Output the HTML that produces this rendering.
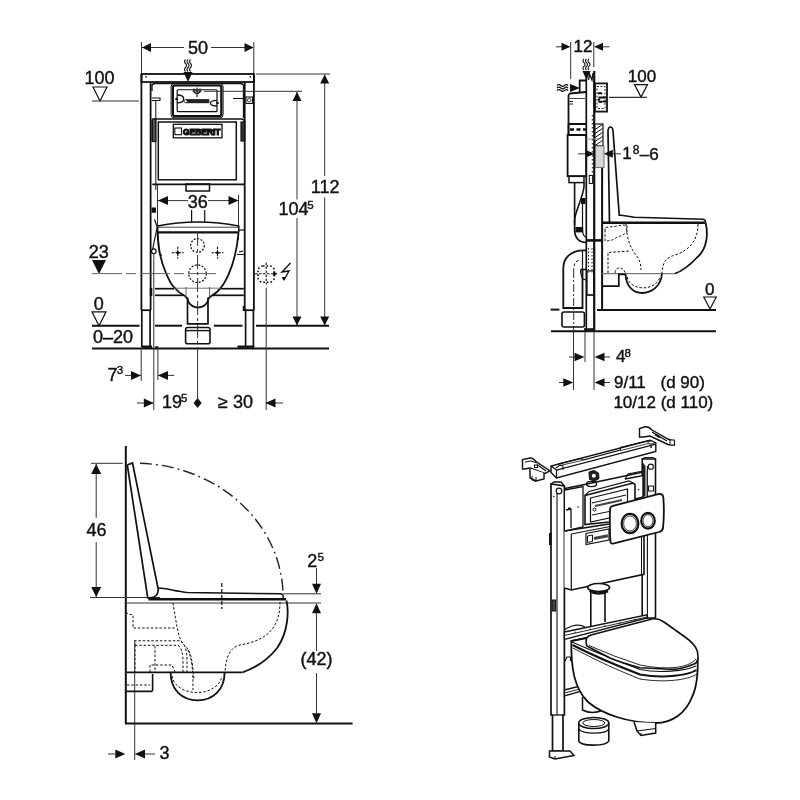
<!DOCTYPE html>
<html><head><meta charset="utf-8"><style>
html,body{margin:0;padding:0;background:#fff;}
svg{display:block;filter:grayscale(100%);}
text{font-family:"Liberation Sans",sans-serif;fill:#111;stroke:#111;stroke-width:0.4px;}
</style></head><body>
<svg width="800" height="800" viewBox="0 0 800 800">
<rect width="800" height="800" fill="#fff"/>
<line x1="141.5" y1="42" x2="141.5" y2="74" stroke="#333" stroke-width="1" />
<line x1="253.8" y1="42" x2="253.8" y2="74" stroke="#333" stroke-width="1" />
<line x1="142" y1="47.5" x2="184" y2="47.5" stroke="#333" stroke-width="1" />
<line x1="211" y1="47.5" x2="253" y2="47.5" stroke="#333" stroke-width="1" />
<polygon points="142,47.5 151,43.0 151,52.0" fill="#111"/>
<polygon points="253.5,47.5 244.5,43.0 244.5,52.0" fill="#111"/>
<polygon points="93.0,87 107.0,87 100,101" fill="none" stroke="#111" stroke-width="1.2"/>
<line x1="92" y1="101" x2="139" y2="101" stroke="#333" stroke-width="1.2" />
<rect x="141.5" y="74" width="112.5" height="8" rx="0" stroke="#111" stroke-width="1.8" fill="none" />
<line x1="141.4" y1="74" x2="141.4" y2="310.2" stroke="#111" stroke-width="1.8" />
<line x1="150.6" y1="82" x2="150.6" y2="310.2" stroke="#111" stroke-width="1.8" />
<line x1="244.7" y1="82" x2="244.7" y2="310.2" stroke="#111" stroke-width="1.8" />
<line x1="253.9" y1="74" x2="253.9" y2="310.2" stroke="#111" stroke-width="1.8" />
<line x1="141.4" y1="310.2" x2="150.6" y2="310.2" stroke="#111" stroke-width="1.8" />
<line x1="244.7" y1="310.2" x2="253.9" y2="310.2" stroke="#111" stroke-width="1.8" />
<rect x="149.8" y="288" width="2.5" height="8" rx="0" stroke="#111" stroke-width="0" fill="#111" />
<rect x="242.7" y="306" width="2.5" height="5" rx="0" stroke="#111" stroke-width="0" fill="#111" />
<line x1="141.8" y1="310" x2="141.8" y2="347" stroke="#111" stroke-width="1.7" />
<line x1="150.1" y1="310" x2="150.1" y2="347" stroke="#111" stroke-width="1.7" />
<line x1="245.6" y1="310" x2="245.6" y2="347" stroke="#111" stroke-width="1.7" />
<line x1="253.4" y1="310" x2="253.4" y2="347" stroke="#111" stroke-width="1.7" />
<line x1="141.5" y1="346.7" x2="152" y2="346.7" stroke="#111" stroke-width="2.4" />
<line x1="237.5" y1="346.7" x2="254.3" y2="346.7" stroke="#111" stroke-width="2.4" />
<rect x="155.4" y="346.3" width="2.6" height="2" rx="0" stroke="#111" stroke-width="0" fill="#111" />
<path d="M185.5,59.5 q-2,2 0,4 q2,2 0,4 q-2,2 0,4" stroke="#111" stroke-width="1.1" fill="none" />
<path d="M188,59.5 q-2,2 0,4 q2,2 0,4 q-2,2 0,4" stroke="#111" stroke-width="1.1" fill="none" />
<path d="M190.5,59.5 q-2,2 0,4 q2,2 0,4 q-2,2 0,4" stroke="#111" stroke-width="1.1" fill="none" />
<polygon points="188,82 183.5,72 192.5,72" fill="#111"/>
<circle cx="146" cy="76.8" r="0.9" fill="#111"/><circle cx="250.3" cy="76.8" r="0.9" fill="#111"/>
<path d="M152,91 L152,86 Q152,83.5 155,83.5 L240,83.5 Q243.5,83.5 243.5,86 L243.5,118" stroke="#111" stroke-width="1.3" fill="none" />
<rect x="171.1" y="83.7" width="52" height="34.1" rx="3" stroke="#111" stroke-width="1.0" fill="none" />
<rect x="172.9" y="85.5" width="48.4" height="30.5" rx="2" stroke="#111" stroke-width="2.2" fill="none" />
<rect x="177.2" y="89.75" width="39.8" height="21.95" rx="1" stroke="#111" stroke-width="1.2" fill="none" />
<path d="M194,88.5 L194,92 Q197,95 200,92 L200,88.5 M197,87.5 L197,97 M192.5,91 L201.5,91" stroke="#111" stroke-width="1.1" fill="none" />
<path d="M177.2,95 Q183.7,95 183.7,99 Q183.7,102.8 177.2,102.8" stroke="#111" stroke-width="1.3" fill="none" />
<path d="M217,100.3 Q210.5,100.3 210.5,103.2 Q210.5,106 217,106" stroke="#111" stroke-width="1.3" fill="none" />
<rect x="186" y="99.1" width="23.3" height="4.1" fill="#222"/>
<circle cx="185.7" cy="101.2" r="1.6" fill="#fff" stroke="#111" stroke-width="0.8"/>
<circle cx="176.5" cy="99" r="1.3" fill="#111"/><circle cx="217.5" cy="103" r="1.3" fill="#111"/>
<path d="M152,98 L160,98 L160,100.5 L152,100.5" stroke="#111" stroke-width="1.1" fill="none" />
<path d="M233,98.5 L243,98.5" stroke="#111" stroke-width="1.1" fill="none" />
<rect x="246" y="97" width="6.5" height="6.5" rx="0" stroke="#111" stroke-width="1.1" fill="none" />
<circle cx="249.2" cy="100.2" r="1.8" fill="none" stroke="#111" stroke-width="0.8"/>
<line x1="155.8" y1="100" x2="155.8" y2="190" stroke="#111" stroke-width="1" />
<path d="M152.3,141.5 L152.3,121 Q152.3,119 155,119 L241,119 Q244.5,119 244.5,122 L244.5,141" stroke="#111" stroke-width="1.6" fill="none" />
<rect x="152.3" y="119" width="3.5" height="22.5" rx="0" stroke="#111" stroke-width="1.2" fill="#555" />
<rect x="241" y="122" width="3.5" height="19" rx="0" stroke="#111" stroke-width="1.2" fill="#333" />
<line x1="152.3" y1="184.3" x2="244.5" y2="184.3" stroke="#111" stroke-width="1.8" />
<rect x="158.3" y="122" width="78" height="57.8" rx="0" stroke="#111" stroke-width="1.5" fill="none" />
<rect x="173.3" y="124.3" width="48.7" height="13.5" rx="0" stroke="#111" stroke-width="1.3" fill="none" />
<rect x="174.8" y="128" width="6.7" height="6.7" rx="0" stroke="#111" stroke-width="1.1" fill="none" />
<text x="183" y="134.8" font-size="8.2" font-weight="bold" textLength="37.5" lengthAdjust="spacingAndGlyphs" style="fill:#111;stroke:#111;stroke-width:1.1">GEBERIT</text>
<rect x="186" y="184" width="23.5" height="7" rx="0" stroke="#111" stroke-width="1.5" fill="none" />
<line x1="157.5" y1="195" x2="157.5" y2="240" stroke="#333" stroke-width="1" />
<line x1="238.5" y1="195" x2="238.5" y2="240" stroke="#333" stroke-width="1" />
<line x1="158" y1="200.6" x2="188" y2="200.6" stroke="#333" stroke-width="1" />
<line x1="208" y1="200.6" x2="238" y2="200.6" stroke="#333" stroke-width="1" />
<polygon points="158,200.6 168,196.1 168,205.1" fill="#111"/>
<polygon points="238.5,200.6 228.5,196.1 228.5,205.1" fill="#111"/>
<line x1="191.6" y1="210" x2="191.6" y2="222" stroke="#111" stroke-width="1.2" />
<line x1="204.7" y1="210" x2="204.7" y2="222" stroke="#111" stroke-width="1.2" />
<path d="M157.5,232.4 L157.5,226 Q198,218 238.8,226 L238.8,232.4" stroke="#111" stroke-width="1.5" fill="none" />
<line x1="158" y1="227.2" x2="238.5" y2="227.2" stroke="#111" stroke-width="0.8" />
<line x1="157" y1="232.4" x2="239" y2="232.4" stroke="#111" stroke-width="2.4" />
<path d="M157.5,233 C158,250 161,262 166.3,273.8 C169,280 171,284 173.8,287 C178,292 181,294 185,296 C186.5,297 188,299 188.5,302 C191,306 194.5,307.5 198,307.5 C201.5,307.5 205,306 207.5,302 C208,299 209.5,297 211.3,296 C215,294 218,292 221.3,287 C224,284 226,280 228.8,273.8 C234,262 237,250 238.5,233" stroke="#111" stroke-width="1.8" fill="none" />
<line x1="238.5" y1="230" x2="244.5" y2="230" stroke="#111" stroke-width="1.2" />
<path d="M237,254.5 L244.5,254.5 M239,252 L243,251" stroke="#111" stroke-width="1.2" fill="none" />
<rect x="151.5" y="207.5" width="4.5" height="5.2" rx="0" stroke="#111" stroke-width="0" fill="#111" />
<path d="M154.5,219.5 L157.2,227 L152.5,250" stroke="#111" stroke-width="1.2" fill="none" />
<path d="M157.5,228 L159.5,254 L162,255.5" stroke="#111" stroke-width="1.2" fill="none" />
<circle cx="153.8" cy="251.2" r="2.3" fill="none" stroke="#111" stroke-width="1.2"/>
<line x1="157.5" y1="185" x2="157.5" y2="227" stroke="#333" stroke-width="1" />
<circle cx="197.5" cy="245.5" r="6.8" fill="none" stroke="#111" stroke-width="1.2" stroke-dasharray="2 1.5"/>
<circle cx="197.5" cy="273.7" r="8.8" fill="none" stroke="#111" stroke-width="1.2" stroke-dasharray="2 1.5"/>
<line x1="171.8" y1="252.7" x2="183.8" y2="252.7" stroke="#111" stroke-width="1.1" stroke-dasharray="2.5 1"/>
<line x1="177.8" y1="246.7" x2="177.8" y2="258.7" stroke="#111" stroke-width="1.1" stroke-dasharray="2.5 1"/>
<polygon points="175.8,252.7 177.8,250.7 179.8,252.7 177.8,254.7" fill="#111"/>
<line x1="211.5" y1="252.7" x2="223.5" y2="252.7" stroke="#111" stroke-width="1.1" stroke-dasharray="2.5 1"/>
<line x1="217.5" y1="246.7" x2="217.5" y2="258.7" stroke="#111" stroke-width="1.1" stroke-dasharray="2.5 1"/>
<polygon points="215.5,252.7 217.5,250.7 219.5,252.7 217.5,254.7" fill="#111"/>
<polygon points="92.0,260 106.0,260 99,274" fill="#111"/>
<line x1="92" y1="273.6" x2="216" y2="273.6" stroke="#666" stroke-width="1" stroke-dasharray="30 4 10 4"/>
<polygon points="92.0,311.8 106.0,311.8 99,325.8" fill="none" stroke="#111" stroke-width="1.2"/>
<line x1="92" y1="325.7" x2="139.5" y2="325.7" stroke="#111" stroke-width="2" />
<line x1="155" y1="325.7" x2="182" y2="325.7" stroke="#111" stroke-width="2" />
<line x1="213.8" y1="325.7" x2="242.5" y2="325.7" stroke="#111" stroke-width="2" />
<line x1="256" y1="325.7" x2="329" y2="325.7" stroke="#111" stroke-width="2" />
<line x1="92" y1="348.4" x2="329" y2="348.4" stroke="#111" stroke-width="2" />
<line x1="155" y1="288.7" x2="174" y2="288.7" stroke="#111" stroke-width="1.7" />
<line x1="221" y1="288.7" x2="243.8" y2="288.7" stroke="#111" stroke-width="1.7" />
<line x1="155" y1="295.3" x2="184" y2="295.3" stroke="#111" stroke-width="1.7" />
<line x1="212" y1="295.3" x2="243.8" y2="295.3" stroke="#111" stroke-width="1.7" />
<path d="M187.5,297.5 L187.5,323.8 L208,323.8 L208,297.5" stroke="#111" stroke-width="1.7" fill="none" />
<line x1="186" y1="287" x2="186" y2="297" stroke="#555" stroke-width="0.9" />
<line x1="209.5" y1="287" x2="209.5" y2="297" stroke="#555" stroke-width="0.9" />
<line x1="175" y1="288.2" x2="221" y2="288.2" stroke="#666" stroke-width="0.9" />
<rect x="185.6" y="327.5" width="24.4" height="16.3" rx="2" stroke="#111" stroke-width="1.6" fill="none" />
<line x1="186" y1="330.6" x2="209.6" y2="330.6" stroke="#111" stroke-width="1.4" />
<line x1="197.6" y1="232" x2="197.6" y2="348" stroke="#333" stroke-width="1" stroke-dasharray="14 3 3 3"/>
<line x1="197.6" y1="348" x2="197.6" y2="400" stroke="#333" stroke-width="1" />
<line x1="256" y1="74" x2="330" y2="74" stroke="#333" stroke-width="1" />
<line x1="204" y1="91.3" x2="302" y2="91.3" stroke="#333" stroke-width="1" />
<line x1="297" y1="92" x2="297" y2="199.5" stroke="#333" stroke-width="1" />
<line x1="297" y1="218" x2="297" y2="325" stroke="#333" stroke-width="1" />
<polygon points="297,92 292.5,101 301.5,101" fill="#111"/>
<polygon points="297,325.5 292.5,316.5 301.5,316.5" fill="#111"/>
<line x1="324.7" y1="74.4" x2="324.7" y2="176" stroke="#333" stroke-width="1" />
<line x1="324.7" y1="197.5" x2="324.7" y2="325" stroke="#333" stroke-width="1" />
<polygon points="324.7,74.4 320.2,83.4 329.2,83.4" fill="#111"/>
<polygon points="324.7,325.5 320.2,316.5 329.2,316.5" fill="#111"/>
<rect x="258" y="266" width="16.4" height="16.2" rx="5" stroke="#111" stroke-width="1.6" fill="none" stroke-dasharray="1.6 2"/>
<line x1="255" y1="273.8" x2="277" y2="273.8" stroke="#111" stroke-width="1.1" stroke-dasharray="2.5 1.5"/>
<line x1="266.2" y1="262.5" x2="266.2" y2="284.5" stroke="#111" stroke-width="1.1" stroke-dasharray="2.5 1.5"/>
<polygon points="277.2,273.8 273.2,271.3 273.2,276.3" fill="#111"/>
<path d="M290.5,263 L282,272 L289,271 L284,280" stroke="#111" stroke-width="1.4" fill="none" />
<polygon points="283.6,281 281.6,277 285.6,277" fill="#111"/>
<line x1="266.2" y1="288" x2="266.2" y2="410" stroke="#333" stroke-width="1" />
<line x1="141.2" y1="348" x2="141.2" y2="381" stroke="#333" stroke-width="1" />
<line x1="153.8" y1="253" x2="153.8" y2="410" stroke="#333" stroke-width="1" />
<line x1="157.9" y1="346" x2="157.9" y2="380" stroke="#333" stroke-width="1" />
<line x1="125" y1="375.4" x2="141" y2="375.4" stroke="#333" stroke-width="1" />
<polygon points="141,375.4 131,370.9 131,379.9" fill="#111"/>
<line x1="158" y1="375.4" x2="174" y2="375.4" stroke="#333" stroke-width="1" />
<polygon points="158,375.4 168,370.9 168,379.9" fill="#111"/>
<line x1="137" y1="403" x2="153.5" y2="403" stroke="#333" stroke-width="1" />
<polygon points="153.8,403 143.8,398.5 143.8,407.5" fill="#111"/>
<polygon points="197.6,398 201.6,403 197.6,408 193.6,403" fill="#111"/>
<line x1="266" y1="403" x2="283" y2="403" stroke="#333" stroke-width="1" />
<polygon points="265.5,403 275.5,398.5 275.5,407.5" fill="#111"/>
<line x1="570.7" y1="42" x2="570.7" y2="79" stroke="#333" stroke-width="1" />
<line x1="593.8" y1="42" x2="593.8" y2="67.3" stroke="#333" stroke-width="1" />
<line x1="556" y1="46.8" x2="562" y2="46.8" stroke="#333" stroke-width="1" />
<polygon points="570.5,46.8 561.5,42.8 561.5,50.8" fill="#111"/>
<line x1="602" y1="46.8" x2="609.5" y2="46.8" stroke="#333" stroke-width="1" />
<polygon points="594,46.8 603,42.8 603,50.8" fill="#111"/>
<path d="M584.0,59 q-2,2 0,3.7 q2,1.8 0,3.7 q-2,1.8 0,3.6" stroke="#111" stroke-width="1.1" fill="none" />
<path d="M586.5,59 q-2,2 0,3.7 q2,1.8 0,3.7 q-2,1.8 0,3.6" stroke="#111" stroke-width="1.1" fill="none" />
<path d="M589.0,59 q-2,2 0,3.7 q2,1.8 0,3.7 q-2,1.8 0,3.6" stroke="#111" stroke-width="1.1" fill="none" />
<polygon points="586.5,80 582.5,71 590.5,71" fill="#111"/>
<path d="M557,85.5 q2,-1.8 3.8,0 q1.8,1.8 3.7,0 q1.8,-1.8 3.6,0" stroke="#111" stroke-width="1.1" fill="none" />
<path d="M557,88 q2,-1.8 3.8,0 q1.8,1.8 3.7,0 q1.8,-1.8 3.6,0" stroke="#111" stroke-width="1.1" fill="none" />
<path d="M557,90.5 q2,-1.8 3.8,0 q1.8,1.8 3.7,0 q1.8,-1.8 3.6,0" stroke="#111" stroke-width="1.1" fill="none" />
<polygon points="580,88 570,84.0 570,92.0" fill="#111"/>
<line x1="586.3" y1="71" x2="586.3" y2="331" stroke="#111" stroke-width="1.7" />
<line x1="594.2" y1="71" x2="594.2" y2="331" stroke="#111" stroke-width="2.2" />
<path d="M588.5,80 L589.5,74 L592,80 L593,73" stroke="#111" stroke-width="1.3" fill="none" />
<line x1="592.3" y1="115" x2="592.3" y2="175" stroke="#111" stroke-width="1" stroke-dasharray="1.5 2.5"/>
<path d="M579.7,92 L579.7,80.5 L586,80.5" stroke="#111" stroke-width="1.8" fill="none" />
<path d="M586,92 L570,93.5 Q568.5,94 568.5,96 L568.5,124" stroke="#111" stroke-width="1.8" fill="none" />
<line x1="570" y1="98.5" x2="585" y2="98.5" stroke="#111" stroke-width="0.8" />
<line x1="569.5" y1="101.5" x2="573" y2="101.5" stroke="#111" stroke-width="1" />
<line x1="569.5" y1="104" x2="573" y2="104" stroke="#111" stroke-width="1" />
<path d="M568.5,124 L586,124 M568.5,135 L586,135" stroke="#111" stroke-width="1.8" fill="none" />
<line x1="568.5" y1="124" x2="568.5" y2="135" stroke="#111" stroke-width="2.2" />
<line x1="570" y1="129.5" x2="586" y2="129.5" stroke="#111" stroke-width="2.4" stroke-dasharray="4 2.5"/>
<rect x="567.6" y="135" width="18.6" height="41.2" rx="0" stroke="#111" stroke-width="1.8" fill="none" />
<rect x="569" y="176.2" width="15" height="6.4" rx="0" stroke="#111" stroke-width="1.5" fill="none" />
<rect x="589.3" y="175.5" width="3.3" height="8" rx="0" stroke="#111" stroke-width="1" fill="none" />
<rect x="594.7" y="124" width="8.3" height="22" rx="0" stroke="#111" stroke-width="1.2" fill="none" />
<line x1="595" y1="129.5" x2="602.5" y2="124.5" stroke="#111" stroke-width="1" />
<line x1="595" y1="133.5" x2="602.5" y2="128.5" stroke="#111" stroke-width="1" />
<line x1="595" y1="137.5" x2="602.5" y2="132.5" stroke="#111" stroke-width="1" />
<line x1="595" y1="141.5" x2="602.5" y2="136.5" stroke="#111" stroke-width="1" />
<line x1="595" y1="145.5" x2="602.5" y2="140.5" stroke="#111" stroke-width="1" />
<rect x="595" y="83.4" width="12" height="28.2" rx="0" stroke="#111" stroke-width="1.8" fill="none" />
<rect x="597" y="86.5" width="8" height="22" rx="0" stroke="#111" stroke-width="0.9" fill="none" stroke-dasharray="2 1.5"/>
<path d="M598,94 Q600,92 602,94 M598.5,97.5 L604,97.5 M598.5,101 Q600.5,103 602.5,101" stroke="#111" stroke-width="1.8" fill="none" />
<circle cx="599" cy="99.5" r="1.3" fill="#111"/>
<line x1="603" y1="97.5" x2="607" y2="97.5" stroke="#111" stroke-width="2" />
<line x1="603" y1="101.5" x2="607" y2="101.5" stroke="#111" stroke-width="2" />
<polygon points="634.5,84.6 647.5,84.6 641,97.1" fill="none" stroke="#111" stroke-width="1.2"/>
<line x1="609" y1="97.4" x2="647" y2="97.4" stroke="#333" stroke-width="1.2" />
<rect x="595.6" y="146" width="8.4" height="21.5" rx="0" stroke="#666" stroke-width="0.9" fill="#d8d8d8" />
<line x1="586" y1="139" x2="600" y2="139" stroke="#888" stroke-width="0.8" />
<line x1="578" y1="153.8" x2="586" y2="153.8" stroke="#333" stroke-width="1" />
<polygon points="594.4,153.8 585.4,149.8 585.4,157.8" fill="#111"/>
<line x1="612" y1="153.8" x2="621" y2="153.8" stroke="#333" stroke-width="1" />
<polygon points="603.8,153.8 612.8,149.8 612.8,157.8" fill="#111"/>
<line x1="602.1" y1="168" x2="602.1" y2="310" stroke="#111" stroke-width="2" />
<path d="M609.5,223 L608,131 Q608.3,127 610.5,127 Q612.7,127 613,131 L619.3,216" stroke="#111" stroke-width="1.7" fill="none" />
<path d="M619,215 Q626,216 634.5,217.3 L703,219.3 Q706,220 705.5,222.5" stroke="#111" stroke-width="1.4" fill="none" />
<line x1="602" y1="222.8" x2="705" y2="222.8" stroke="#111" stroke-width="2.4" />
<path d="M584,182.6 L584,187 C582,200 575,212 574.6,220 L574.6,231 C575,238 579,242 586,242.5" stroke="#111" stroke-width="1.6" fill="none" />
<path d="M574.6,182.6 L574.6,225" stroke="#111" stroke-width="1.6" fill="none" />
<path d="M582.5,204 L582.5,231 C583,235 585,237 586.3,237.5" stroke="#111" stroke-width="1.2" fill="none" />
<rect x="581" y="198" width="4.5" height="6" rx="0" stroke="#111" stroke-width="0" fill="#111" />
<rect x="575.4" y="227" width="7.8" height="5.4" rx="0" stroke="#111" stroke-width="0" fill="#111" />
<line x1="586.6" y1="240.4" x2="602" y2="240.4" stroke="#111" stroke-width="2.6" />
<path d="M705.5,222.5 C708,232 708,248 697.5,257 C690,265 683,271 675,273.5" stroke="#111" stroke-width="1.8" fill="none" />
<line x1="602" y1="273.6" x2="675" y2="273.6" stroke="#777" stroke-width="1.1" />
<path d="M602.2,286.2 L618.8,286.2 L618.8,274.3 L625.5,274.3" stroke="#111" stroke-width="1.7" fill="none" />
<path d="M625.5,274 C626,287 634,293 642,293 C652,293 661,286 662,273.5" stroke="#111" stroke-width="1.8" fill="none" />
<path d="M605,231 L605,227.5 L618,226 Q623,224 627,226 L627,232 Q622,236 617,237 Q613,241 605,241 Z" stroke="#111" stroke-width="1" fill="none" stroke-dasharray="2.5 1.8"/>
<path d="M626,224 C627,235 628,245 636,255 C640,260 641,265 641,270" stroke="#111" stroke-width="1" fill="none" stroke-dasharray="2.5 1.8"/>
<path d="M608,273 L608,252.5 L630,251" stroke="#111" stroke-width="1" fill="none" stroke-dasharray="2.5 1.8"/>
<path d="M698,224 C698,240 690,250 675,255 C664,258 663,264 662,273" stroke="#111" stroke-width="1" fill="none" stroke-dasharray="2.5 1.8"/>
<path d="M615,273 C615,266 624,266 625.5,274" stroke="#111" stroke-width="1" fill="none" stroke-dasharray="2.5 1.8"/>
<path d="M627,277 C630,291 655,292 660,277" stroke="#111" stroke-width="1" fill="none" stroke-dasharray="2.5 1.8"/>
<path d="M586,250.4 L583.7,250.4 C571,250.4 563.3,258 563.3,268 L563.3,308 L582.5,308 L582.5,270" stroke="#111" stroke-width="1.8" fill="none" />
<path d="M578.5,260.5 C575,261 573.7,265 573.7,270" stroke="#111" stroke-width="1" fill="none" stroke-dasharray="3 2"/>
<line x1="573.7" y1="270" x2="573.7" y2="331" stroke="#333" stroke-width="1" stroke-dasharray="8 2 2 2"/>
<line x1="582.5" y1="251" x2="582.5" y2="269.5" stroke="#111" stroke-width="1.2" />
<path d="M580.6,269.5 L586,269.5 M580.6,269.5 Q580.8,276 583,279 L586,280" stroke="#111" stroke-width="1.3" fill="none" />
<rect x="587" y="271" width="6.8" height="24" rx="0" stroke="#111" stroke-width="1.2" fill="none" />
<line x1="588.5" y1="248" x2="588.5" y2="273" stroke="#111" stroke-width="1" stroke-dasharray="1.5 2"/>
<line x1="592" y1="248" x2="592" y2="273" stroke="#111" stroke-width="1" stroke-dasharray="1.5 2"/>
<line x1="587" y1="295" x2="594" y2="295" stroke="#111" stroke-width="1.2" />
<rect x="562" y="312" width="22.4" height="15" rx="2" stroke="#111" stroke-width="1.6" fill="none" />
<line x1="550.6" y1="309.6" x2="559.4" y2="309.6" stroke="#111" stroke-width="2" />
<line x1="597" y1="310" x2="716" y2="310" stroke="#111" stroke-width="2" />
<line x1="551" y1="331.2" x2="716" y2="331.2" stroke="#111" stroke-width="2" />
<line x1="584" y1="329.5" x2="595" y2="329.5" stroke="#111" stroke-width="2.5" />
<polygon points="703.75,297 716.25,297 710,309" fill="none" stroke="#111" stroke-width="1.2"/>
<line x1="573.5" y1="331" x2="573.5" y2="390" stroke="#333" stroke-width="1" />
<line x1="585" y1="331" x2="585" y2="362" stroke="#333" stroke-width="1" />
<line x1="594" y1="331" x2="594" y2="390" stroke="#333" stroke-width="1" />
<line x1="569" y1="357" x2="575" y2="357" stroke="#333" stroke-width="1" />
<polygon points="584.5,357 574.5,352.75 574.5,361.25" fill="#111"/>
<line x1="603" y1="357" x2="610" y2="357" stroke="#333" stroke-width="1" />
<polygon points="594.5,357 604.5,352.75 604.5,361.25" fill="#111"/>
<line x1="559" y1="382.5" x2="564" y2="382.5" stroke="#333" stroke-width="1" />
<polygon points="573.3,382.5 563.3,378.25 563.3,386.75" fill="#111"/>
<line x1="603" y1="382.5" x2="610" y2="382.5" stroke="#333" stroke-width="1" />
<polygon points="594.5,382.5 604.5,378.25 604.5,386.75" fill="#111"/>
<line x1="125.8" y1="446" x2="125.8" y2="723.5" stroke="#111" stroke-width="2" />
<line x1="125" y1="723.5" x2="352.6" y2="723.5" stroke="#111" stroke-width="2" />
<line x1="91" y1="463.3" x2="122.8" y2="463.3" stroke="#333" stroke-width="1" />
<line x1="90" y1="597.5" x2="160" y2="597.5" stroke="#333" stroke-width="1" />
<line x1="96.2" y1="464" x2="96.2" y2="518" stroke="#333" stroke-width="1" />
<line x1="96.2" y1="542" x2="96.2" y2="597" stroke="#333" stroke-width="1" />
<polygon points="96.2,464 91.2,474 101.2,474" fill="#111"/>
<polygon points="96.2,597 91.2,587 101.2,587" fill="#111"/>
<path d="M127.3,465 L132.5,463 L158.3,589.5 Q158,595 154,597 L149,598 Q147,597.7 147.7,597.5 L127.3,465" stroke="#111" stroke-width="1.7" fill="none" />
<path d="M140,463.3 A148,134 0 0 1 283,592" fill="none" stroke="#222" stroke-width="1.4" stroke-dasharray="12 4 2 4"/>
<path d="M158.5,588 C165,588 175,591 187.5,592.5 L281,593.8 Q284,594.5 283,598" stroke="#111" stroke-width="1.5" fill="none" />
<line x1="148.5" y1="599.2" x2="286" y2="599.2" stroke="#111" stroke-width="2.6" />
<line x1="126" y1="603" x2="321" y2="603" stroke="#333" stroke-width="1" />
<line x1="221.8" y1="583" x2="221.8" y2="609" stroke="#111" stroke-width="1.2" stroke-dasharray="4 2"/>
<line x1="283" y1="593.8" x2="321" y2="593.8" stroke="#333" stroke-width="1" />
<line x1="316.5" y1="568" x2="316.5" y2="584" stroke="#333" stroke-width="1" />
<polygon points="316.5,593.8 312.0,583.8 321.0,583.8" fill="#111"/>
<polygon points="316.5,603.3 312.0,613.3 321.0,613.3" fill="#111"/>
<line x1="316.5" y1="612" x2="316.5" y2="651" stroke="#333" stroke-width="1" />
<line x1="316.5" y1="673" x2="316.5" y2="713" stroke="#333" stroke-width="1" />
<polygon points="316.5,723.2 312.0,713.2 321.0,713.2" fill="#111"/>
<path d="M286.5,600.5 C289,612 288,632 277.5,647.5 C268,660 255,668 242.6,672.3" stroke="#111" stroke-width="1.8" fill="none" />
<line x1="126.8" y1="672.3" x2="242.6" y2="672.3" stroke="#111" stroke-width="1.8" />
<path d="M170.6,672.3 C170.6,690 182,700.4 197.6,700.4 C213,700.4 224.6,690 224.6,672.3" stroke="#111" stroke-width="1.8" fill="none" />
<path d="M126,691.4 L150.6,691.4 Q152.6,691.4 152.6,689.4 L152.6,674" stroke="#111" stroke-width="1.6" fill="none" />
<path d="M126,612 L128,614 L133,615 L133,628 L176,628" stroke="#111" stroke-width="1" fill="none" stroke-dasharray="2.5 1.8"/>
<path d="M173,603 C176,620 178,640 184,645 C190,650 192,655 194,680" stroke="#111" stroke-width="1" fill="none" stroke-dasharray="2.5 1.8"/>
<path d="M135,646 L135,640.8 L180,640.8 C185,643 187,650 187,660 L187,672" stroke="#111" stroke-width="1" fill="none" stroke-dasharray="2.5 1.8"/>
<path d="M135,645.3 L178,645.3 C182,648 183,655 183,662 L183,672" stroke="#111" stroke-width="1" fill="none" stroke-dasharray="2.5 1.8"/>
<path d="M127,685 L150,685" stroke="#111" stroke-width="1" fill="none" stroke-dasharray="2.5 1.8"/>
<path d="M135,645 L135,672" stroke="#111" stroke-width="1" fill="none" stroke-dasharray="2.5 1.8"/>
<path d="M155,646 L155,672" stroke="#111" stroke-width="1" fill="none" stroke-dasharray="2.5 1.8"/>
<path d="M150,672 L150,665 L172,665 L175,672" stroke="#111" stroke-width="1" fill="none" stroke-dasharray="2.5 1.8"/>
<path d="M280,602 C280,625 270,640 240,645 C228,648 226,660 225,672" stroke="#111" stroke-width="1" fill="none" stroke-dasharray="2.5 1.8"/>
<path d="M172,676 C176,698 218,698 222,676" stroke="#111" stroke-width="1" fill="none" stroke-dasharray="2.5 1.8"/>
<path d="M188,650 C192,658 193,670 193,690" stroke="#111" stroke-width="1" fill="none" stroke-dasharray="2.5 1.8"/>
<line x1="134.7" y1="640" x2="134.7" y2="760" stroke="#333" stroke-width="1" />
<line x1="108" y1="754" x2="115" y2="754" stroke="#333" stroke-width="1" />
<polygon points="125.3,754 115.3,749.5 115.3,758.5" fill="#111"/>
<line x1="135.5" y1="754" x2="155" y2="754" stroke="#333" stroke-width="1" />
<polygon points="135,754 145,749.5 145,758.5" fill="#111"/>
<path d="M642.2,459 L642.2,618 L655.5,618 L655.5,459 Z" stroke="#111" stroke-width="1.6" fill="#fff" />
<line x1="647.4" y1="466" x2="647.4" y2="618" stroke="#111" stroke-width="1.1" />
<path d="M642.5,462 L645.5,466 L645.5,496 L642.5,497 Z" fill="#222"/>
<line x1="646.5" y1="470" x2="646.5" y2="496" stroke="#999" stroke-width="1.2" />
<path d="M642.2,459 L645,457.5 L653,457.5 L655.5,459" stroke="#111" stroke-width="1.2" fill="none" />
<circle cx="650.8" cy="466.7" r="2.6" fill="#fff" stroke="#111" stroke-width="1.1"/>
<rect x="648.5" y="486" width="5" height="5" rx="0" stroke="#111" stroke-width="1" fill="#fff" />
<path d="M551,466 L551,472.5 L556.5,478 L655.8,451.5 L655.8,443 L650,440.2 Z" stroke="#111" stroke-width="1.4" fill="#fff" />
<path d="M551,466 L556.5,470 L655.8,444.2" stroke="#111" stroke-width="1.2" fill="none" />
<line x1="556.5" y1="470" x2="556.5" y2="478" stroke="#111" stroke-width="1.2" />
<path d="M558,464 L581,458.5 L583,460 L620.4,450 L620.4,447.5 L643,442 L649.6,440.3" stroke="#111" stroke-width="1.2" fill="none" />
<path d="M560,465.5 L582,460.5 M621,450.5 L650,443" stroke="#111" stroke-width="0.8" fill="none" />
<ellipse cx="651" cy="442.5" rx="3" ry="1.6" fill="#fff" stroke="#111" stroke-width="1"/>
<circle cx="651" cy="447" r="0.9" fill="#111"/>
<path d="M556,468 L560,465 L563,466 L563,470" stroke="#111" stroke-width="1.1" fill="none" />
<path d="M522.5,459.5 L522.5,469 L524.5,469 L530,468 L545,473.5 L550,471 L536,461.5 Q533,457.5 530,458 Z" stroke="#111" stroke-width="1.4" fill="#fff" />
<path d="M525,462 L531,461 L537,463" stroke="#111" stroke-width="1.0" fill="none" />
<path d="M530,468.5 L530,478 L536,481 L544,479 L544,473" stroke="#111" stroke-width="1.4" fill="#fff" />
<path d="M532,476 L532,480 L536,481.5 L536,477" stroke="#111" stroke-width="1.0" fill="none" />
<path d="M537,464.5 L546,471" stroke="#111" stroke-width="1.2" fill="none" />
<rect x="534.5" y="465" width="3" height="2.5" rx="0" stroke="#111" stroke-width="1.0" fill="none" />
<path d="M639.5,428.5 L639.5,437 L643,437 L650,436 L668,444.5 L674.4,445 L674.4,441.5 L668,439 L652,430 Q649,426.5 645,426.8 Z" stroke="#111" stroke-width="1.4" fill="#fff" />
<path d="M652,432 L667,441" stroke="#111" stroke-width="1.2" fill="none" />
<path d="M655,434.5 L660,437.5" stroke="#111" stroke-width="2" fill="none" />
<rect x="670" y="440" width="4.4" height="5" rx="0" stroke="#111" stroke-width="1.0" fill="#fff" />
<path d="M589,472 L594,470.5 L598.5,473 L599,478.5 L595,481 L589.5,479.5 Z" fill="#222" stroke="#111" stroke-width="1"/>
<circle cx="593.8" cy="475.8" r="2" fill="#fff"/>
<ellipse cx="591.5" cy="484" rx="5" ry="2.6" fill="#fff" stroke="#111" stroke-width="1.4"/>
<path d="M551,484 L551,715 L552.5,715 L552.5,751 L563,751 L563,715 L564.4,715 L564.4,486 Z" stroke="#111" stroke-width="1.7" fill="#fff" />
<line x1="557" y1="490" x2="557" y2="715" stroke="#111" stroke-width="1.1" />
<path d="M551,484 L554,482 L561,482 L564.4,486" stroke="#111" stroke-width="1.3" fill="none" />
<circle cx="559" cy="491" r="2.8" fill="#fff" stroke="#111" stroke-width="1.2"/>
<circle cx="553.8" cy="496.5" r="0.8" fill="#111"/>
<rect x="549" y="533" width="2.5" height="12" rx="0" stroke="#111" stroke-width="0" fill="#111" />
<rect x="552.2" y="600" width="3.4" height="11" rx="0" stroke="#111" stroke-width="1" fill="#444" />
<path d="M549.5,751 L570,751 L574,755.5 L555,759 L549.5,757 Z" stroke="#111" stroke-width="1.5" fill="#fff" />
<line x1="555" y1="759" x2="555" y2="756" stroke="#111" stroke-width="1" />
<line x1="552.5" y1="715" x2="563" y2="715" stroke="#111" stroke-width="1.3" />
<path d="M564.4,531 L609,524 L644,517 L644,574.3 L571.3,590 L564.4,588" stroke="#111" stroke-width="1.6" fill="#fff" />
<path d="M571.3,534 L571.3,590 M571.3,534 L644,520" stroke="#111" stroke-width="1.2" fill="none" />
<line x1="641.5" y1="520" x2="641.5" y2="574.5" stroke="#111" stroke-width="1.0" />
<path d="M586,533.5 L609,529 L609,540 L586,544.5 Z" stroke="#111" stroke-width="1.2" fill="#fff" />
<path d="M587.5,536 L592.5,535 L592.5,541.5 L587.5,542.5 Z" stroke="#111" stroke-width="1.0" fill="none" />
<path d="M594,538.5 L608,535.8" stroke="#444" stroke-width="3.2" fill="none" />
<path d="M565,490 L583,486.5 L583,527 L565,531" stroke="#111" stroke-width="1.3" fill="#fff" />
<path d="M566,510 L571,509 L571,528" stroke="#111" stroke-width="1.3" fill="none" />
<circle cx="578" cy="507" r="0.8" fill="#111"/>
<rect x="568" y="507.5" width="2.5" height="2.5" rx="0" stroke="#111" stroke-width="0" fill="#111" />
<path d="M565,488.5 L587,484 L627,475.5 L643,472" stroke="#111" stroke-width="1.5" fill="none" />
<path d="M625,479 L643,475.5 L643,497 L635,499" stroke="#111" stroke-width="1.4" fill="#fff" />
<path d="M625,479 L628,474 L643,471" stroke="#111" stroke-width="1.1" fill="none" />
<circle cx="638.5" cy="489.7" r="0.8" fill="#111"/>
<path d="M585,495.4 L633,483 L635,484.5 L635,516 L609,522 L585,524.6 Z" stroke="#111" stroke-width="1.6" fill="#fff" />
<path d="M585,495.4 L589,491.5 L629,481 L633,483" stroke="#111" stroke-width="1.2" fill="none" />
<path d="M590.5,498 L627.5,489 L627.5,514 L590.5,522 Z" stroke="#111" stroke-width="1.2" fill="none" />
<path d="M592,503 L626,495" stroke="#111" stroke-width="1.2" fill="none" />
<path d="M595,506 L622,500" stroke="#444" stroke-width="2.2" fill="none" />
<path d="M592,515 L614,510.5" stroke="#111" stroke-width="1.0" fill="none" />
<circle cx="594.5" cy="509.5" r="1.5" fill="#fff" stroke="#111" stroke-width="1"/>
<path d="M612,506.2 L659,494 Q663,493.5 663.4,498 Q664.5,514 663,528 Q662.5,531 659,532 L613,543.6 Q610.4,544 610.4,541 Q609.5,525 610,509 Q610.3,506.7 612,506.2 Z" stroke="#111" stroke-width="1.8" fill="#fff" />
<ellipse cx="630" cy="523.5" rx="8.4" ry="9.6" fill="none" stroke="#111" stroke-width="2.2"/>
<ellipse cx="630" cy="523.5" rx="6.4" ry="7.5" fill="none" stroke="#111" stroke-width="0.8"/>
<ellipse cx="648" cy="520.7" rx="6.8" ry="7.9" fill="none" stroke="#111" stroke-width="2.2"/>
<ellipse cx="648" cy="520.7" rx="5" ry="6" fill="none" stroke="#111" stroke-width="0.8"/>
<path d="M590.8,588 L590.8,626 M605,586 L605,622" stroke="#111" stroke-width="1.6" fill="none" />
<ellipse cx="598.6" cy="587.5" rx="11" ry="4" fill="#fff" stroke="#111" stroke-width="1.6"/>
<path d="M589.5,591 Q598,596 608,591" stroke="#111" stroke-width="2.6" fill="none" />
<path d="M564.4,632 L647,614.8 L647,618 L564.4,639.5 Z" stroke="#111" stroke-width="1.3" fill="#fff" />
<path d="M564.4,635.5 L647,617" stroke="#111" stroke-width="0.9" fill="none" />
<circle cx="575" cy="632.2952" r="0.7" fill="#111"/>
<circle cx="590" cy="629.1752" r="0.7" fill="#111"/>
<circle cx="605" cy="626.0552" r="0.7" fill="#111"/>
<circle cx="620" cy="622.9352" r="0.7" fill="#111"/>
<circle cx="635" cy="619.8152" r="0.7" fill="#111"/>
<path d="M564.4,629.5 L572,626 Q580,624 585,627" stroke="#111" stroke-width="1.2" fill="none" />
<path d="M564.4,690 L600,681 L600,686 L564.4,696 Z" stroke="#111" stroke-width="1.3" fill="#fff" />
<path d="M564.4,693 L600,684" stroke="#111" stroke-width="0.9" fill="none" />
<path d="M565,661 L567,657 L570.5,657 L570.5,661" stroke="#111" stroke-width="1.2" fill="none" />
<path d="M582.5,697 L582.5,710 Q592,715 603,710 L603,697" stroke="#111" stroke-width="1.5" fill="#fff" />
<path d="M571.3,641 C571,668 574,688 588,702 C602,714 628,723 656,723 C672,723 686,713 692,697 C698,685 698,670 697.7,658 L586,638 Z" stroke="#111" stroke-width="1.8" fill="#fff" />
<path d="M570.8,641 L586,638" stroke="#111" stroke-width="1.5" fill="none" />
<path d="M572,642 C590,650 605,656 640,669.5 C660,673.5 685,671 696,666" stroke="#111" stroke-width="1.1" fill="none" />
<path d="M572.5,645 C592,655 610,663 640,674.5 C665,679 688,675 696.5,670" stroke="#111" stroke-width="2.0" fill="none" />
<path d="M573,648 C594,659 612,668 640,679 C665,683 688,680 697,674" stroke="#111" stroke-width="0.9" fill="none" />
<path d="M586.8,646 Q585.5,641 586.5,638.5 Q588,635.5 592,634.8 L652,619 Q658,618 664,622 L685,637 Q695,644 697.3,651 Q698.5,658 697.5,660 Q696,664 694,664 Q680,670 670,669.3 L640,667.7 Q622,663 610,658 Z" stroke="#111" stroke-width="1.6" fill="#fff" />
<path d="M589,645.5 Q612,656 640,665 Q660,669 675,667.5 Q690,666 696,659" stroke="#111" stroke-width="0.9" fill="none" />
<path d="M634,722 L637,731 L641,735.5 L655.7,733 L655.7,723" stroke="#111" stroke-width="1.5" fill="#fff" />
<path d="M637,731 L655.5,728.5" stroke="#111" stroke-width="1.1" fill="none" />
<path d="M641,735.5 L641,733" stroke="#111" stroke-width="1" fill="none" />
<path d="M578.8,723 L578.8,741 C580,746.5 606,746.5 608.8,741 L608.8,723" stroke="#111" stroke-width="1.6" fill="#fff" />
<ellipse cx="593.8" cy="723" rx="15" ry="5.5" fill="#fff" stroke="#111" stroke-width="1.6"/>
<ellipse cx="593.8" cy="723" rx="11" ry="3.5" fill="none" stroke="#111" stroke-width="1"/>
<path d="M579,729 C582,734.5 606,734.5 608.8,729" stroke="#111" stroke-width="1.4" fill="none" />
<text x="188.0" y="53.75" font-size="18" text-anchor="start" >50</text>
<text x="84.5" y="84.4" font-size="18" text-anchor="start" >100</text>
<text x="187.8" y="208.0" font-size="18" text-anchor="start" >36</text>
<text x="88.8" y="257.5" font-size="18" text-anchor="start" >23</text>
<text x="93.85" y="310.0" font-size="18" text-anchor="start" >0</text>
<text x="92.97" y="343.4" font-size="18" text-anchor="start" >0–20</text>
<text x="310.82" y="193.1" font-size="18" text-anchor="start" >112</text>
<text x="278.6" y="215.0" font-size="18" text-anchor="start" >104</text>
<text x="307.25" y="209.0" font-size="11.5" text-anchor="start" >5</text>
<text x="107.5" y="380.6" font-size="18" text-anchor="start" >7</text>
<text x="116.8" y="374.4" font-size="11.5" text-anchor="start" >3</text>
<text x="161.88" y="407.5" font-size="18" text-anchor="start" >19</text>
<text x="180.88" y="401.9" font-size="11.5" text-anchor="start" >5</text>
<text x="218.0" y="408.0" font-size="18" text-anchor="start" >≥ 30</text>
<text x="573.55" y="52.2" font-size="17" text-anchor="start" >12</text>
<text x="627.75" y="81.75" font-size="17" text-anchor="start" >100</text>
<text x="622.2" y="159.4" font-size="17" text-anchor="start" >1</text>
<text x="632.75" y="154.4" font-size="12" text-anchor="start" >8</text>
<text x="639.75" y="160.0" font-size="17" text-anchor="start" >–6</text>
<text x="704.88" y="294.5" font-size="17" text-anchor="start" >0</text>
<text x="616.12" y="361.75" font-size="17" text-anchor="start" >4</text>
<text x="624.62" y="357.25" font-size="11.5" text-anchor="start" >8</text>
<text x="614.0" y="388.0" font-size="17" text-anchor="start" >9/11</text>
<text x="660.5" y="388.0" font-size="17" text-anchor="start" >(d 90)</text>
<text x="613.38" y="407.5" font-size="17" text-anchor="start" >10/12 (d 110)</text>
<text x="86.58" y="536.4" font-size="18" text-anchor="start" >46</text>
<text x="307.35" y="566.9" font-size="18" text-anchor="start" >2</text>
<text x="317.6" y="560.6" font-size="11.5" text-anchor="start" >5</text>
<text x="300.43" y="665.3" font-size="18" text-anchor="start" >(42)</text>
<text x="159.5" y="759.0" font-size="18" text-anchor="start" >3</text>
</svg></body></html>
